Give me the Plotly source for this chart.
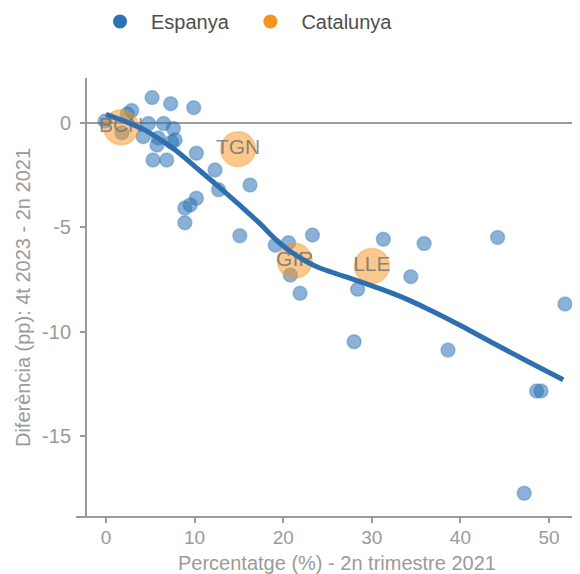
import plotly.graph_objects as go

# Espanya (provinces) points
esp_x = [-0.1, 2.4, 2.9, 5.2, 7.3, 9.9, 4.8, 6.5, 7.6, 1.8, 4.2, 5.9, 7.8, 5.75, 7.4,
         5.3, 6.85, 10.2, 12.3, 12.7, 16.25, 10.2, 9.5, 8.9, 8.9, 15.1,
         19.1, 20.6, 23.3, 20.8, 21.9, 28.4, 31.3, 35.9, 34.4, 44.2, 51.8, 28.0,
         38.6, 48.6, 49.1, 47.2]
esp_y = [0.1, 0.43, 0.6, 1.22, 0.93, 0.74, -0.02, -0.02, -0.26, -0.46, -0.65, -0.72, -0.81, -1.05, -0.91,
         -1.77, -1.77, -1.45, -2.25, -3.2, -2.97, -3.6, -3.93, -4.07, -4.78, -5.4,
         -5.85, -5.73, -5.37, -7.28, -8.16, -7.97, -5.57, -5.77, -7.36, -5.48, -8.67, -10.48,
         -10.88, -12.84, -12.84, -17.74]

# Catalunya (provinces) points
cat_labels = ["BCN", "TGN", "GIR", "LLE"]
cat_x = [1.7, 14.9, 21.3, 30.0]
cat_y = [-0.2, -1.25, -6.6, -6.85]

# Smoothed trend
fit_x = [0, 2, 4.4, 6.5, 8.0, 10.5, 13.0, 15.0, 17.2, 19.6, 21.5, 23.6, 25.5, 28.0,
         31.0, 34.0, 36.5, 40.0, 43.7, 47.5, 51.6]
fit_y = [0.42, 0.1, -0.34, -0.9, -1.35, -2.25, -3.15, -3.9, -4.75, -5.75, -6.35, -6.85,
         -7.15, -7.5, -7.95, -8.45, -8.95, -9.7, -10.55, -11.4, -12.3]

x_ticks = [0, 10, 20, 30, 40, 50]
y_ticks = [0, -5, -10, -15]
y_ticktext = ["0", "-5", "-10", "-15"]
legend_names = ["Espanya\u00a0", "Catalunya"]

BLUE = "#2C72B4"
ORANGE = "#F7941D"
GRAY = "#9A9A9A"
FONT = "Arial, Liberation Sans, sans-serif"

fig = go.Figure()

fig.add_trace(go.Scatter(
    x=esp_x, y=esp_y, mode="markers", showlegend=False, hoverinfo="x+y",
    marker=dict(size=14, color="rgba(44,114,180,0.55)",
                line=dict(color="rgba(44,114,180,0.35)", width=1.5)),
))

fig.add_trace(go.Scatter(
    x=cat_x, y=cat_y, mode="markers+text", text=cat_labels, showlegend=False,
    textposition="middle center",
    textfont=dict(family=FONT, size=21, color="rgba(110,110,110,0.8)"),
    marker=dict(size=35, color="rgba(247,148,29,0.5)",
                line=dict(color="rgba(247,148,29,0.35)", width=1.5)),
))

fig.add_trace(go.Scatter(
    x=fit_x, y=fit_y, mode="lines", showlegend=False, hoverinfo="skip",
    line=dict(color="#2E6FB0", width=5, shape="spline", smoothing=1.0),
))

# legend entries
fig.add_trace(go.Scatter(x=[None], y=[None], mode="markers", name=legend_names[0],
                         marker=dict(size=14, color=BLUE)))
fig.add_trace(go.Scatter(x=[None], y=[None], mode="markers", name=legend_names[1],
                         marker=dict(size=14, color=ORANGE)))

# axis lines as shapes (x line overhangs a bit to the left like reference)
fig.add_shape(type="line", xref="paper", yref="paper", x0=-0.02, x1=1, y0=0, y1=0,
              line=dict(color=GRAY, width=2))
fig.add_shape(type="line", xref="paper", yref="paper", x0=0, x1=0, y0=0, y1=1,
              line=dict(color=GRAY, width=2))

fig.add_annotation(text="Percentatge (%) - 2n trimestre 2021", xref="paper", yref="paper",
                   x=0.5, y=-0.105, xanchor="center", yanchor="middle", showarrow=False,
                   font=dict(family=FONT, size=20, color=GRAY))

fig.update_layout(
    width=580, height=574,
    margin=dict(l=78, r=0, t=70, b=65, autoexpand=False),
    paper_bgcolor="white", plot_bgcolor="white",
    font=dict(family=FONT, color=GRAY),
    legend=dict(orientation="h", x=0.006, xanchor="left", y=1.173, yanchor="top",
                yref="paper", font=dict(family=FONT, size=20, color="#4D4D4D"),
                itemwidth=52),
    xaxis=dict(range=[-2.26, 54.4], tickvals=x_ticks, showgrid=False, zeroline=False,
               automargin=False,
               showline=False, ticks="outside", ticklen=5, tickwidth=2, tickcolor=GRAY,
               tickfont=dict(size=19, color=GRAY), ticklabelstandoff=-2),
    yaxis=dict(range=[-18.88, 2.16], tickvals=y_ticks, ticktext=y_ticktext, showgrid=False,
               automargin=False,
               zeroline=True, zerolinecolor=GRAY, zerolinewidth=2,
               showline=False, ticks="outside", ticklen=5, tickwidth=2, tickcolor=GRAY,
               tickfont=dict(size=20, color=GRAY), ticklabelstandoff=5,
               title=dict(text="Diferència (pp): 4t 2023 - 2n 2021",
                          font=dict(size=20, color=GRAY), standoff=6)),
)

fig.write_html("out.html")
